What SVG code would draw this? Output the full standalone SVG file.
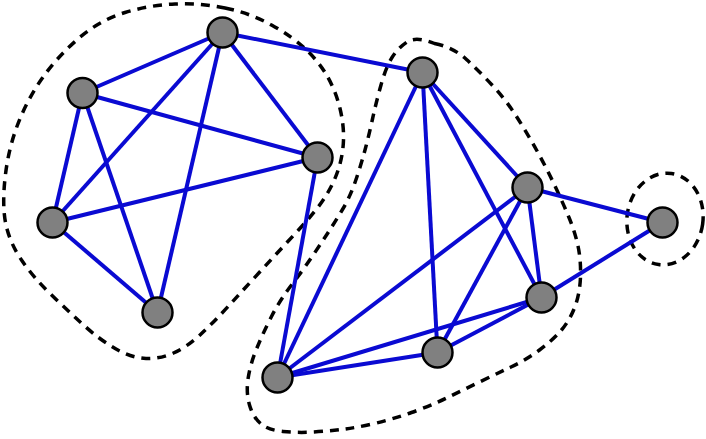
<svg xmlns="http://www.w3.org/2000/svg" width="706" height="439" viewBox="0 0 706 439">
<style>
.hull{fill:none;stroke:#000;stroke-width:3.5;stroke-dasharray:9 7}
.edge{stroke:#0a0ad2;stroke-width:4;fill:none}
.node{fill:#808080;stroke:#000;stroke-width:2.5}
</style>
<rect width="706" height="439" fill="#fff"/>
<g id="hulls">
<path class="hull" d="M225,8 Q250,13 271.5,25 Q293,37 306.5,50 Q320,63 328,77.5 Q336,92 340,108.5 Q344,125 343.5,140 Q343,155 338.5,169 Q334,183 325.5,196.5 Q317,210 298.5,230 Q280,250 262.5,269 Q245,288 229,305.5 Q213,323 200,335 Q187,347 173.5,353 Q160,359 146,358.5 Q132,358 116,349 Q100,340 83.5,325 Q67,310 50,293.5 Q33,277 21.5,260 Q10,243 6,225 Q2,207 5,178.5 Q8,150 17.5,125 Q27,100 42,78.5 Q57,57 78.5,38.5 Q100,20 125,12.5 Q150,5 175,4 Q200,3 225,8 Z"/>
<path class="hull" d="M434.5,43.5 Q453,47 466.5,59.5 Q480,72 493,86 Q506,100 516.5,116.5 Q527,133 536.5,150 Q546,167 554.5,185 Q563,203 569,217.5 Q575,232 578,246 Q581,260 580.5,276.5 Q580,293 575,306.5 Q570,320 561.5,330 Q553,340 539.5,350 Q526,360 511,367 Q496,374 479.5,382 Q463,390 446.5,398 Q430,406 411.5,412.5 Q393,419 376.5,423 Q360,427 345,429 Q330,431 314,432 Q298,433 283,431.5 Q268,430 260.5,423.5 Q253,417 249.5,405 Q246,393 248,379 Q250,365 256.5,349 Q263,333 271.5,316.5 Q280,300 291.5,285 Q303,270 311.5,257.5 Q320,245 327.5,233.5 Q335,222 342.5,209.5 Q350,197 355.5,181 Q361,165 365,150 Q369,135 372.5,119 Q376,103 381,85 Q386,67 392,57.5 Q398,48 407,42 Q416,36 434.5,43.5 Z"/>
<ellipse class="hull" cx="665" cy="219" rx="38" ry="46" transform="rotate(8 665 219)"/>
</g>
<g id="connectors">
<line class="edge" x1="222.5" y1="32.5" x2="82.5" y2="93"/>
<line class="edge" x1="222.5" y1="32.5" x2="317.5" y2="157.5"/>
<line class="edge" x1="222.5" y1="32.5" x2="52.5" y2="222.5"/>
<line class="edge" x1="222.5" y1="32.5" x2="157.5" y2="312.5"/>
<line class="edge" x1="222.5" y1="32.5" x2="422.5" y2="72.5"/>
<line class="edge" x1="82.5" y1="93" x2="317.5" y2="157.5"/>
<line class="edge" x1="82.5" y1="93" x2="52.5" y2="222.5"/>
<line class="edge" x1="82.5" y1="93" x2="157.5" y2="312.5"/>
<line class="edge" x1="317.5" y1="157.5" x2="52.5" y2="222.5"/>
<line class="edge" x1="317.5" y1="157.5" x2="277.5" y2="377.5"/>
<line class="edge" x1="52.5" y1="222.5" x2="157.5" y2="312.5"/>
<line class="edge" x1="422.5" y1="72.5" x2="527.5" y2="187.5"/>
<line class="edge" x1="422.5" y1="72.5" x2="541.5" y2="297.5"/>
<line class="edge" x1="422.5" y1="72.5" x2="437.5" y2="352.5"/>
<line class="edge" x1="422.5" y1="72.5" x2="277.5" y2="377.5"/>
<line class="edge" x1="527.5" y1="187.5" x2="662.5" y2="222.5"/>
<line class="edge" x1="527.5" y1="187.5" x2="541.5" y2="297.5"/>
<line class="edge" x1="527.5" y1="187.5" x2="437.5" y2="352.5"/>
<line class="edge" x1="527.5" y1="187.5" x2="277.5" y2="377.5"/>
<line class="edge" x1="662.5" y1="222.5" x2="541.5" y2="297.5"/>
<line class="edge" x1="541.5" y1="297.5" x2="437.5" y2="352.5"/>
<line class="edge" x1="541.5" y1="297.5" x2="277.5" y2="377.5"/>
<line class="edge" x1="437.5" y1="352.5" x2="277.5" y2="377.5"/>
</g>
<g id="nA"><circle class="node" cx="222.5" cy="32.5" r="15"/></g>
<g id="nB"><circle class="node" cx="82.5" cy="93" r="15"/></g>
<g id="nC"><circle class="node" cx="317.5" cy="157.5" r="15"/></g>
<g id="nD"><circle class="node" cx="52.5" cy="222.5" r="15"/></g>
<g id="nE"><circle class="node" cx="157.5" cy="312.5" r="15"/></g>
<g id="nF"><circle class="node" cx="422.5" cy="72.5" r="15"/></g>
<g id="nG"><circle class="node" cx="527.5" cy="187.5" r="15"/></g>
<g id="nH"><circle class="node" cx="662.5" cy="222.5" r="15"/></g>
<g id="nI"><circle class="node" cx="541.5" cy="297.5" r="15"/></g>
<g id="nJ"><circle class="node" cx="437.5" cy="352.5" r="15"/></g>
<g id="nK"><circle class="node" cx="277.5" cy="377.5" r="15"/></g>
</svg>
